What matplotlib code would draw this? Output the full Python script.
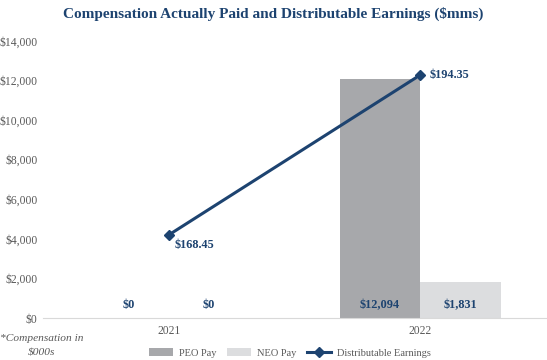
import matplotlib
matplotlib.use("Agg")
import matplotlib.pyplot as plt
from matplotlib.ticker import FuncFormatter
import numpy as np

years = ["2021", "2022"]
peo_pay = [0, 12094]
neo_pay = [0, 1831]
dist_earnings = [168.45, 194.35]

navy = "#1d4370"
peo_color = "#a7a8ab"
neo_color = "#dcdddf"
tick_color = "#595959"

plt.rcParams["font.family"] = ["Liberation Serif", "DejaVu Serif"]

fig = plt.figure(figsize=(5.47, 3.6), dpi=100)
ax = fig.add_axes([43 / 547, 1 - 318 / 360, (546 - 43) / 547, (318 - 41) / 360])

x = np.arange(len(years))
w = 0.32
b1 = ax.bar(x - w / 2, peo_pay, w, color=peo_color, label="PEO Pay")
b2 = ax.bar(x + w / 2, neo_pay, w, color=neo_color, label="NEO Pay")
ax.set_xlim(-0.5, 1.5)
ax.set_ylim(0, 14000)
ax.set_yticks(np.arange(0, 14001, 2000))
ax.yaxis.set_major_formatter(FuncFormatter(lambda v, p: f"${v:,.0f}"))
ax.set_xticks(x)
ax.set_xticklabels(years)
ax.tick_params(axis="both", length=0, colors=tick_color, labelsize=8.4)
ax.tick_params(axis="y", pad=4)
ax.tick_params(axis="x", pad=5)
for s in ["top", "right", "left"]:
    ax.spines[s].set_visible(False)
ax.spines["bottom"].set_color("#d9d9d9")

for bars, vals in [(b1, peo_pay), (b2, neo_pay)]:
    for r, v in zip(bars, vals):
        ax.text(r.get_x() + r.get_width() / 2, 650, f"${v:,.0f}", ha="center", va="center",
                color=navy, fontsize=8.8, fontweight="bold")

ax2 = ax.twinx()
ax2.set_ylim(155.0, 199.85)
ln, = ax2.plot(x, dist_earnings, color=navy, lw=2.2, marker="D", markersize=5,
               label="Distributable Earnings")
ax2.axis("off")
ax2.annotate(f"${dist_earnings[0]:.2f}", (x[0], dist_earnings[0]), xytext=(4, -7.5),
             textcoords="offset points", ha="left", va="center", color=navy,
             fontsize=8.8, fontweight="bold")
ax2.annotate(f"${dist_earnings[1]:.2f}", (x[1], dist_earnings[1]), xytext=(7, 0),
             textcoords="offset points", ha="left", va="center", color=navy,
             fontsize=8.8, fontweight="bold")

fig.text(0.5, 1 - 14 / 360, "Compensation Actually Paid and Distributable Earnings ($mms)",
         ha="center", va="center", fontsize=11, fontweight="bold", color=navy)

fig.text(42 / 547, 1 - 345.5 / 360, "*Compensation in\n$000s", ha="center", va="center",
         fontsize=8.2, style="italic", color=tick_color, linespacing=1.7)

leg = fig.legend(handles=[b1, b2, ln], loc="center", bbox_to_anchor=(290 / 547, 1 - 353 / 360),
                 ncol=3, frameon=False, fontsize=7.5, handlelength=2.3, handleheight=0.7,
                 columnspacing=1.0, handletextpad=0.6)
for t in leg.get_texts():
    t.set_color(tick_color)

fig.savefig("out.png", dpi=100)
